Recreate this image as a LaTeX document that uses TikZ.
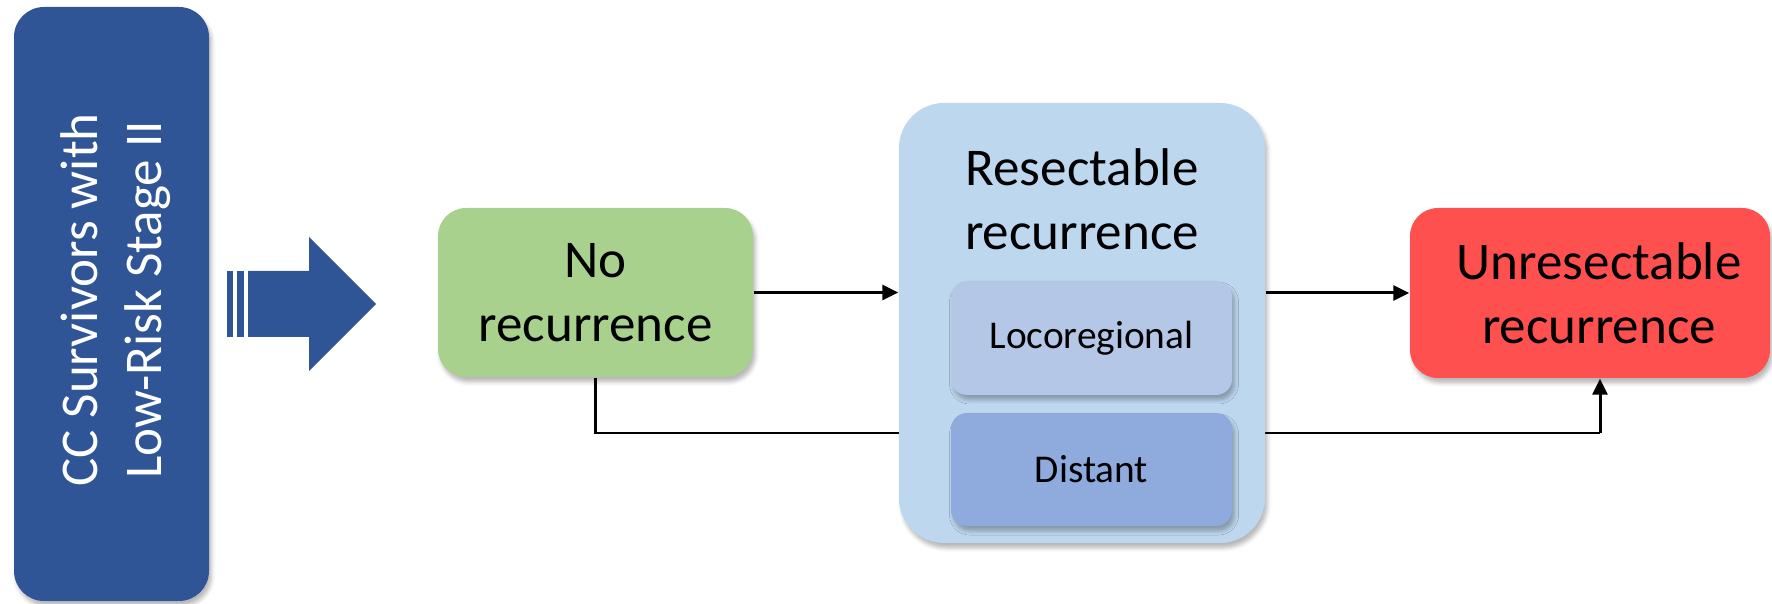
\documentclass[tikz,border=0pt]{standalone}
\usepackage{fontspec}
\setmainfont{Carlito}
\usetikzlibrary{arrows.meta,shadows.blur}
\pgfdeclarelayer{background}
\pgfsetlayers{background,main}

\definecolor{ccblue}{HTML}{2F5597}
\definecolor{nogreen}{HTML}{A9D18E}
\definecolor{resblue}{HTML}{BDD7EE}
\definecolor{locoblue}{HTML}{B4C7E7}
\definecolor{distblue}{HTML}{8FAADC}
\definecolor{unresred}{HTML}{FF5050}

\newcommand{\bigtext}{\fontsize{15.1pt}{18.2pt}\selectfont}
\newcommand{\smalltext}{\fontsize{11.2pt}{13.5pt}\selectfont}

\tikzset{
  softshadow/.style={blur shadow={shadow xshift=0.25mm, shadow yshift=-0.5mm,
      shadow blur radius=0.4mm, shadow opacity=28}},
  box/.style={rectangle, rounded corners=2.8mm, inner sep=0pt, align=center,
      font=\bigtext, softshadow},
  subbox/.style={rectangle, rounded corners=1.6mm, inner sep=0pt, align=center,
      font=\smalltext, softshadow},
  link/.style={line width=0.85pt, draw=black},
  tip/.style={-{Triangle[length=1.6mm, width=1.5mm]}},
}

\begin{document}
\begin{tikzpicture}[x=0.1mm, y=-0.1mm]
\useasboundingbox (0,0) rectangle (1772,604);

% cohort box on the left
\node[box, fill=ccblue, rounded corners=3mm, minimum width=19.5mm,
      minimum height=59.4mm] (surv) at (111.5,304) {};
\node[rotate=90, text=white, font=\bigtext, align=center, inner sep=0pt]
      (survtext) at (116,300) {CC Survivors with\\Low-Risk Stage II};

% striped block arrow
\fill[ccblue] (227,271) rectangle (233,337);
\fill[ccblue] (237,271) rectangle (244,337);
\fill[ccblue] (248,271) -- (309,271) -- (309,237) -- (376,304)
      -- (309,371) -- (309,337) -- (248,337) -- cycle;

% states
\node[box, fill=nogreen, minimum width=31.5mm, minimum height=16.9mm]
      (none) at (595.5,292.5) {No\\recurrence};
\node[box, fill=resblue, rounded corners=4.5mm, minimum width=36.6mm,
      minimum height=44mm] (res) at (1082,323) {};
\node[font=\bigtext, align=center, inner sep=0pt] (restitle) at (1082,199)
      {Resectable\\recurrence};
\node[subbox, fill=locoblue, minimum width=28.1mm, minimum height=11.4mm]
      (loco) at (1091.5,338) {Locoregional};
\node[subbox, fill=distblue, minimum width=28.1mm, minimum height=11.3mm]
      (dist) at (1091.5,469.5) {Distant};
\node[box, fill=unresred, minimum width=36mm, minimum height=17mm]
      (unres) at (1590,293) {};
\node[font=\bigtext, align=center, inner sep=0pt] (unrestext) at (1599,293)
      {Unresectable\\recurrence};

% transitions
\coordinate (turn) at (1600,433);
\begin{pgfonlayer}{background}
  \draw[link] (none.south) |- (turn);
  \draw[link, tip] (turn) -- (turn |- unres.south);
\end{pgfonlayer}
\draw[link, tip] (none.east) -- (none.east -| res.west);
\draw[link, tip] (res.east |- unres.west) -- (unres.west);
\end{tikzpicture}
\end{document}
